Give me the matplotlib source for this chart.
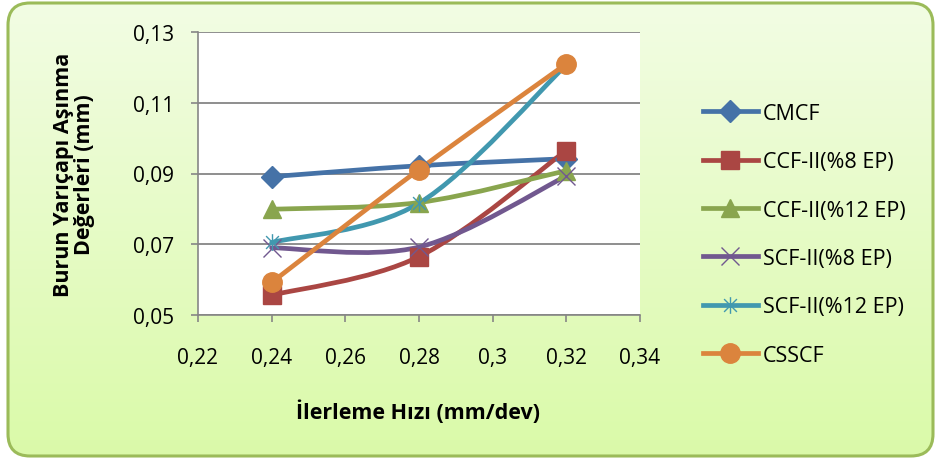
import numpy as np
import matplotlib
matplotlib.use("Agg")
import matplotlib.pyplot as plt
from matplotlib.path import Path
from matplotlib.patches import PathPatch, FancyBboxPatch
from matplotlib.lines import Line2D

plt.rcParams['font.family'] = ['Open Sans', 'DejaVu Sans']

# data
feed = [0.24, 0.28, 0.32]
series_names = ["CMCF", "CCF-II(%8 EP)", "CCF-II(%12 EP)", "SCF-II(%8 EP)", "SCF-II(%12 EP)", "CSSCF"]
cmcf = [0.0891, 0.0922, 0.0942]
ccf8 = [0.0556, 0.0665, 0.0965]
ccf12 = [0.0799, 0.0818, 0.0908]
scf8 = [0.0690, 0.0692, 0.0893]
scf12 = [0.0705, 0.0816, 0.1207]
csscf = [0.0592, 0.0911, 0.1210]
xticks = [0.22, 0.24, 0.26, 0.28, 0.30, 0.32, 0.34]
yticks = [0.05, 0.07, 0.09, 0.11, 0.13]

colors = ["#4572A7", "#AA4643", "#89A54E", "#71588F", "#4198AF", "#DB843D"]

# excel style asterisk marker
star = Path([(-1, -1), (1, 1), (-1, 1), (1, -1), (0, -1.3), (0, 1.3)],
            [Path.MOVETO, Path.LINETO, Path.MOVETO, Path.LINETO, Path.MOVETO, Path.LINETO])
markers = ["D", "s", "^", "x", star, "o"]
msizes = [11, 13, 13, 13, 12, 14]


def smooth_path(xs, ys):
    # bezier curve through the points (catmull-rom style, like excel "smoothed line")
    p = np.column_stack([xs, ys])
    n = len(p)
    verts = [p[0]]
    codes = [Path.MOVETO]
    for i in range(n - 1):
        p0 = p[max(i - 1, 0)]
        p1 = p[i]
        p2 = p[i + 1]
        p3 = p[min(i + 2, n - 1)]
        verts += [p1 + (p2 - p0) / 6, p2 - (p3 - p1) / 6, p2]
        codes += [Path.CURVE4] * 3
    return Path(verts, codes)


fig = plt.figure(figsize=(9.36, 4.6), dpi=100)
fig.patch.set_facecolor("white")

# gradient background inside rounded frame
bg = fig.add_axes([0, 0, 1, 1])
bg.set_xlim(0, 936)
bg.set_ylim(0, 460)
bg.axis("off")
grad = np.linspace(0, 1, 256).reshape(-1, 1)
top = np.array([0.95, 0.99, 0.895])
bot = np.array([0.855, 0.98, 0.66])
img = top * (1 - grad[..., None]) + bot * grad[..., None]
img = np.repeat(img, 2, axis=1)
frame = FancyBboxPatch((8, 3), 925, 453, boxstyle="round,pad=0,rounding_size=22",
                       facecolor="none", edgecolor="#9BBB59", linewidth=2.2, zorder=3)
bg.add_patch(frame)
im = bg.imshow(img, extent=[0, 936, 0, 460], origin="upper", aspect="auto", zorder=1)
im.set_clip_path(frame)

ax = fig.add_axes([198 / 936, 144 / 460, 442 / 936, 283 / 460])
ax.set_facecolor("white")
ax.set_xlim(0.22, 0.34)
ax.set_ylim(0.05, 0.13)
ax.set_xticks(xticks)
ax.set_yticks(yticks)
fmt = lambda v: ("%g" % round(v, 2)).replace(".", ",")
ax.set_xticklabels([fmt(v) for v in xticks])
ax.set_yticklabels([fmt(v) for v in yticks])
ax.tick_params(colors="#868686", labelcolor="black", labelsize=15, length=5, width=1.2)
ax.tick_params(axis="x", pad=18)
ax.tick_params(axis="y", pad=12)
for s in ["top", "right"]:
    ax.spines[s].set_visible(False)
for s in ["left", "bottom"]:
    ax.spines[s].set_color("#868686")
    ax.spines[s].set_linewidth(1.2)
ax.grid(axis="y", color="#868686", linewidth=1.3)
ax.set_axisbelow(True)

all_series = [cmcf, ccf8, ccf12, scf8, scf12, csscf]
handles = []
for name, vals, c, m, ms in zip(series_names, all_series, colors, markers, msizes):
    ax.add_patch(PathPatch(smooth_path(feed, vals), facecolor="none", edgecolor=c,
                           linewidth=3.4, capstyle="round", zorder=3))
    ax.plot(feed, vals, linestyle="none", marker=m, markersize=ms, color=c,
            markeredgewidth=1.0, zorder=4, clip_on=False)
    handles.append(Line2D([], [], color=c, linewidth=3.4, marker=m, markersize=ms,
                          markeredgewidth=1.0))

fig.legend(handles, series_names, loc="upper left", bbox_to_anchor=(703 / 936, 1 - 104 / 460),
           frameon=False, fontsize=15.5, handlelength=2.55, handletextpad=0.23,
           labelspacing=1.27, borderpad=0, borderaxespad=0)

ax.set_ylabel("Burun Yarıçapı Aşınma\nDeğerleri (mm)", fontsize=15.5, fontweight="bold",
              linespacing=1.05)
ax.yaxis.set_label_coords(-0.232, 0.5)
ax.set_xlabel("İlerleme Hızı (mm/dev)", fontsize=15.5, fontweight="bold")
ax.xaxis.set_label_coords(0.498, -0.297)

fig.savefig("out.png", dpi=100)
